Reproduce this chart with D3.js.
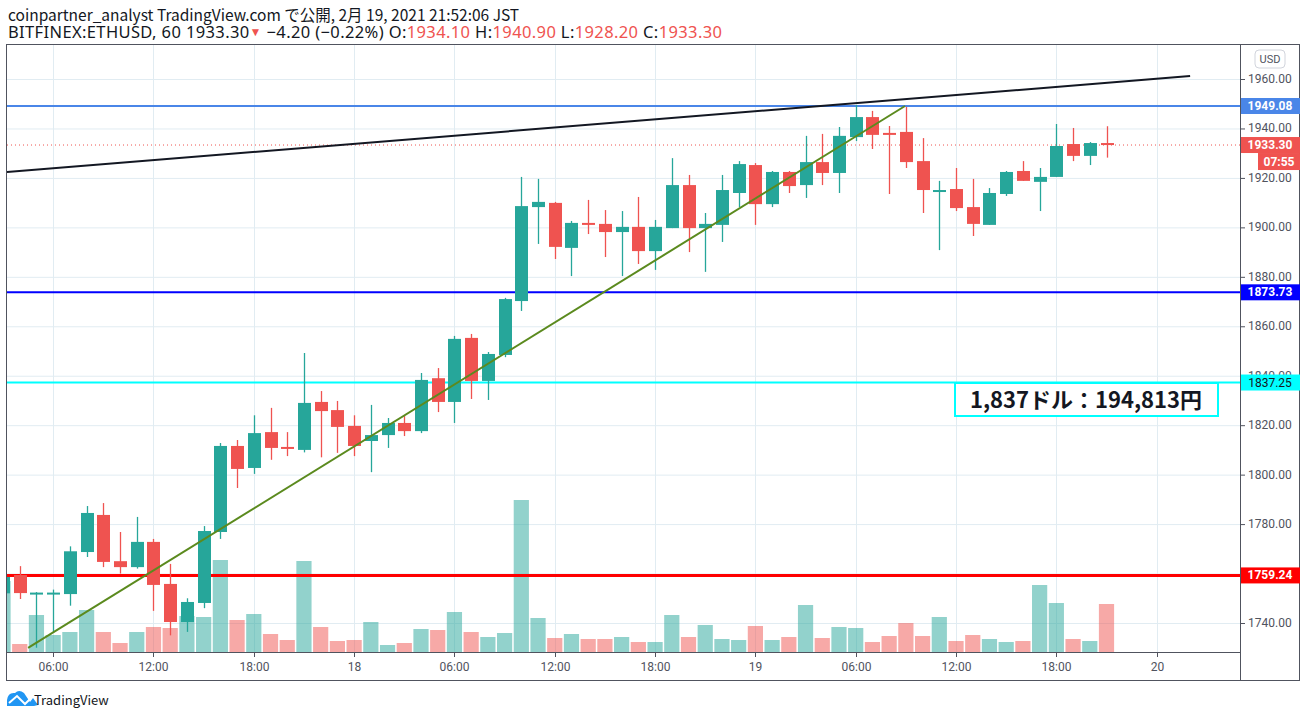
<!DOCTYPE html>
<html><head><meta charset="utf-8">
<script src="https://cdn.jsdelivr.net/npm/d3@7"></script>
<style>
body{margin:0;background:#fff;font-family:"Noto Sans CJK JP","Noto Sans",sans-serif;}
</style></head><body><svg id="chart" width="1307" height="718"></svg>
<script>
// hourly candles, 17 Feb 03:00 -> 19 Feb 21:00
const opens  = [1752,1759.4,1752,1752,1751.7,1768.7,1783.7,1765,1762.6,1772.8,1755.8,1740.4,1748.1,1776.8,1811.6,1802.7,1817.2,1811.2,1810,1829.4,1826.1,1819.7,1813.6,1816,1820.9,1817.6,1839,1829.4,1855.3,1837.9,1848.4,1870.2,1908.2,1909.9,1891.7,1901.8,1901.4,1898.1,1900.2,1890.4,1899.7,1917.1,1899.7,1901,1913.9,1925.2,1909.4,1922.4,1917.1,1926.4,1922,1936.5,1944.6,1938.2,1938.6,1926.8,1914.7,1915.5,1908.2,1901,1913.5,1922.8,1918.4,1920.4,1933.7,1928.9,1934.1];
const highs  = [1763,1763,1752.5,1753.5,1771,1787.3,1788.5,1776.8,1782.9,1774,1763.9,1750,1779.2,1812.8,1814,1824,1827,1817.2,1849.2,1833.8,1829.8,1824,1828.2,1822.9,1823.7,1841.1,1843.1,1856.1,1856.9,1849.6,1871.5,1920.4,1919.6,1910.3,1902.6,1911.1,1907,1906.6,1912.3,1903,1928,1921.2,1905.8,1921.2,1926.8,1926,1922.8,1922.8,1937,1937.8,1940.6,1949.5,1947.1,1941,1948.7,1936.1,1918.8,1924,1919.6,1915.9,1922.8,1926.8,1924,1941.8,1940.2,1934.5,1940.9];
const lows   = [1750,1749.7,1730,1736,1747,1766.7,1762.6,1760,1762,1744.9,1735,1736.4,1746,1774,1794.6,1800.3,1806,1807.5,1809,1807,1808.8,1807.5,1801,1810.8,1815.6,1816.8,1825.3,1820.9,1830.6,1830.2,1847.5,1866.2,1893.3,1887.2,1880.3,1897.3,1888,1880.3,1885.2,1882.8,1899.7,1890,1882,1894.1,1908.2,1901,1908.2,1913.9,1911.9,1917.1,1913.9,1934.9,1931.7,1913.5,1924,1905.8,1890.8,1906.6,1896.5,1901,1912.7,1918.8,1906.6,1920.4,1926.8,1925.2,1928.2];
const closes = [1758.6,1752.1,1752.3,1752.3,1769,1784.5,1764.7,1762.6,1772.8,1755.4,1740.4,1748.5,1777.2,1811.6,1802.3,1816.8,1810.8,1810.4,1829,1825.7,1819.3,1811.6,1816,1820.9,1817.6,1838.3,1829.4,1854.9,1837.9,1848.8,1871,1908.6,1910.3,1892.1,1901.8,1901,1898.1,1900.2,1890.4,1900.2,1917.1,1899.7,1901.4,1915.1,1925.6,1909.4,1922.4,1916.7,1926.4,1922,1937,1944.6,1937.4,1937.8,1926.4,1915.1,1915.1,1907.8,1901.4,1913.9,1922.4,1918.8,1920.4,1932.9,1928.9,1934.1,1933.3];
const volumes = [71,8,37,17,20,42,20,9,20,25,24,36,35,92,32,38,18,12,91,25,11,12,30,7,9,23,22,40,20,15,19,152,34,14,18,13,13,15,10,10,37,15,27,13,12,26,12,15,47,14,25,24,10,16,29,16,35,11,17,13,10,11,67,49,13,11,48];

const timeTicks = [3,9,15,21,27,33,39,45,51,57,63,69];
const timeLabels = ["06:00","12:00","18:00","18","06:00","12:00","18:00","19","06:00","12:00","18:00","20"];
const priceTicks = [1740,1760,1780,1800,1820,1840,1860,1880,1900,1920,1940,1960];

const levels = [
  {price:1949.08, color:"#4a86e8", w:2, text:"#fff"},
  {price:1873.73, color:"#0000ff", w:2, text:"#fff"},
  {price:1837.25, color:"#00ffff", w:2, text:"#131722"},
  {price:1759.24, color:"#ff0000", w:3, text:"#fff"}
];
// trend lines as [index, price] endpoints
const blackLine = [[0.24,1922.4],[71,1961.2]];
const greenLine = [[1.5,1729.9],[53.95,1949.08]];
const lastPrice = 1933.30;

const svg = d3.select("#chart");
const L = 7, R = 1240, T = 45, B = 652;
const x = d3.scaleLinear().domain([0, 66]).range([3, 1106.5]);
const y = d3.scaleLinear().domain([1740, 1960]).range([623, 79]);
const vy = d3.scaleLinear().domain([0, 160]).range([B, B - 160]);
const up = "#26a69a", dn = "#ef5350";

// header
const head = svg.append("text").attr("x", 8).attr("y", 21).attr("font-size", 15.5).attr("fill", "#131722");
head.text("coinpartner_analyst TradingView.com で公開, 2月 19, 2021 21:52:06 JST");
const h2 = svg.append("text").attr("x", 8).attr("y", 38).attr("font-size", 16.5).attr("fill", "#131722")
  .attr("font-family", "'Noto Sans',sans-serif").attr("textLength", 714).attr("lengthAdjust", "spacing");
h2.append("tspan").text("BITFINEX:ETHUSD, 60 1933.30");
h2.append("tspan").attr("fill", dn).attr("font-size", 12).attr("dy", -2).text("▼");
h2.append("tspan").attr("dy", 2).text(" −4.20 (−0.22%) O:");
h2.append("tspan").attr("fill", dn).text("1934.10");
h2.append("tspan").text(" H:");
h2.append("tspan").attr("fill", dn).text("1940.90");
h2.append("tspan").text(" L:");
h2.append("tspan").attr("fill", dn).text("1928.20");
h2.append("tspan").text(" C:");
h2.append("tspan").attr("fill", dn).text("1933.30");

svg.append("defs").append("clipPath").attr("id", "clip")
  .append("rect").attr("x", L).attr("y", T).attr("width", R - L).attr("height", B - T);

// grid
const grid = svg.append("g").attr("stroke", "#e1ecf2").attr("stroke-width", 1);
priceTicks.forEach(p => grid.append("line").attr("x1", L).attr("x2", R).attr("y1", y(p) + .5).attr("y2", y(p) + .5));
timeTicks.forEach(t => grid.append("line").attr("x1", Math.round(x(t)) + .5).attr("x2", Math.round(x(t)) + .5).attr("y1", T).attr("y2", B));

const plot = svg.append("g").attr("clip-path", "url(#clip)");

// volume
plot.append("g").selectAll("rect").data(volumes).join("rect")
  .attr("x", (d, i) => x(i) - 7.6).attr("width", 15.2)
  .attr("y", d => vy(d)).attr("height", d => B - vy(d))
  .attr("fill", (d, i) => closes[i] >= opens[i] ? up : dn).attr("fill-opacity", 0.5);

// current price dotted
plot.append("line").attr("x1", L).attr("x2", R).attr("y1", y(lastPrice)).attr("y2", y(lastPrice))
  .attr("stroke", dn).attr("stroke-dasharray", "1,3");

// levels
levels.forEach(l => plot.append("line").attr("x1", L).attr("x2", R).attr("y1", y(l.price)).attr("y2", y(l.price))
  .attr("stroke", l.color).attr("stroke-width", l.w));

// candles
const c = plot.append("g").selectAll("g").data(opens).join("g")
  .attr("fill", (d, i) => closes[i] >= opens[i] ? up : dn)
  .attr("stroke", (d, i) => closes[i] >= opens[i] ? up : dn);
c.append("line").attr("x1", (d, i) => Math.round(x(i)) + .5).attr("x2", (d, i) => Math.round(x(i)) + .5)
  .attr("y1", (d, i) => y(highs[i])).attr("y2", (d, i) => y(lows[i])).attr("stroke-width", 1.3);
c.append("rect").attr("stroke", "none")
  .attr("x", (d, i) => Math.round(x(i)) - 6).attr("width", 13)
  .attr("y", (d, i) => y(Math.max(opens[i], closes[i])))
  .attr("height", (d, i) => Math.max(2, Math.abs(y(opens[i]) - y(closes[i]))));

// trend lines
const ln = d3.line().x(d => x(d[0])).y(d => y(d[1]));
plot.append("path").attr("d", ln(blackLine)).attr("stroke", "#131722").attr("stroke-width", 2).attr("fill", "none");
plot.append("path").attr("d", ln(greenLine)).attr("stroke", "#5b8a1e").attr("stroke-width", 2).attr("fill", "none");

// annotation
const ann = svg.append("g");
ann.append("rect").attr("x", 955).attr("y", 383).attr("width", 263).attr("height", 33)
  .attr("fill", "#fff").attr("stroke", "#00ffff").attr("stroke-width", 2);
ann.append("text").attr("x", 1086).attr("y", 408).attr("text-anchor", "middle")
  .attr("font-size", 22).attr("font-weight", "bold").attr("fill", "#131722").text("1,837ドル：194,813円");

// frame
svg.append("rect").attr("x", L - .5).attr("y", T - .5).attr("width", 1300 - L).attr("height", 681 - T)
  .attr("fill", "none").attr("stroke", "#50535e");
svg.append("line").attr("x1", R + .5).attr("x2", R + .5).attr("y1", T).attr("y2", 681).attr("stroke", "#50535e");
svg.append("line").attr("x1", L).attr("x2", R).attr("y1", B + .5).attr("y2", B + .5).attr("stroke", "#50535e");

// price axis
const pa = svg.append("g").attr("font-family", "Roboto,'Noto Sans',sans-serif").attr("font-size", 12).attr("fill", "#50535e");
priceTicks.forEach(p => {
  pa.append("line").attr("x1", R).attr("x2", R + 5).attr("y1", y(p) + .5).attr("y2", y(p) + .5).attr("stroke", "#50535e");
  pa.append("text").attr("x", 1248).attr("y", y(p) + 4).text(p.toFixed(2));
});
pa.append("rect").attr("x", 1255).attr("y", 50).attr("width", 30).attr("height", 18).attr("rx", 4)
  .attr("fill", "#fff").attr("stroke", "#d1d4dc");
pa.append("text").attr("x", 1270).attr("y", 63).attr("text-anchor", "middle").attr("font-size", 11).text("USD");
levels.forEach(l => {
  pa.append("rect").attr("x", R + 1).attr("y", y(l.price) - 8).attr("width", 59).attr("height", 16).attr("fill", l.color);
  pa.append("text").attr("x", 1270).attr("y", y(l.price) + 4).attr("text-anchor", "middle")
    .attr("fill", l.text).attr("font-weight", l.text === "#fff" ? "bold" : "normal").text(l.price.toFixed(2));
});
pa.append("rect").attr("x", R + 1).attr("y", y(lastPrice) - 8).attr("width", 59).attr("height", 16).attr("fill", dn);
pa.append("text").attr("x", 1270).attr("y", y(lastPrice) + 4).attr("text-anchor", "middle").attr("fill", "#fff").attr("font-weight", "bold").text("1933.30");
pa.append("rect").attr("x", 1258).attr("y", y(lastPrice) + 8).attr("width", 42).attr("height", 17).attr("fill", dn);
pa.append("text").attr("x", 1279).attr("y", y(lastPrice) + 21).attr("text-anchor", "middle").attr("fill", "#fff").attr("font-weight", "bold").text("07:55");

// time axis
const ta = svg.append("g").attr("font-family", "Roboto,'Noto Sans',sans-serif").attr("font-size", 12).attr("fill", "#50535e");
timeTicks.forEach((t, k) => {
  const xx = Math.round(x(t)) + .5;
  ta.append("line").attr("x1", xx).attr("x2", xx).attr("y1", B).attr("y2", B + 5).attr("stroke", "#50535e");
  ta.append("text").attr("x", xx).attr("y", 671).attr("text-anchor", "middle").text(timeLabels[k]);
});

// logo
const lg = svg.append("g");
lg.append("path").attr("d", "M7,706 L7,700 Q8,692 15,693 Q19,689 24,693 L30,702 L33,698 L38,705 L34,706 Z").attr("fill", "#2196f3");
lg.append("path").attr("d", "M9,703 L17,696 L25,704 L32,697").attr("stroke", "#fff").attr("stroke-width", 2).attr("fill", "none");
lg.append("text").attr("x", 34).attr("y", 705).attr("font-size", 13).attr("fill", "#131722").text("TradingView");
</script></body></html>
